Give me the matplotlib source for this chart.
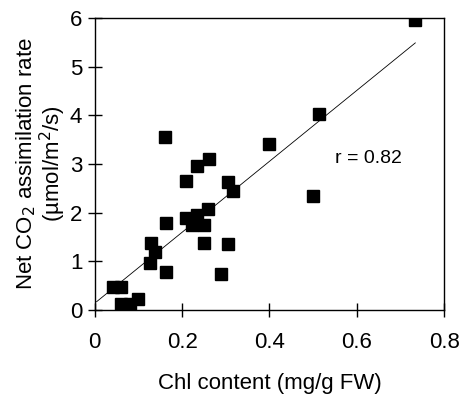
import numpy as np
import matplotlib.pyplot as plt

plt.rcParams['font.family'] = ['Liberation Sans', 'DejaVu Sans']

# Chl content (mg/g FW) and net CO2 assimilation rate
chl = [0.042, 0.059, 0.059, 0.076, 0.080, 0.099, 0.126, 0.128, 0.138,
       0.161, 0.164, 0.164, 0.209, 0.210, 0.222, 0.233, 0.235, 0.250,
       0.250, 0.260, 0.261, 0.289, 0.306, 0.306, 0.316, 0.398, 0.499,
       0.514, 0.734]
rate = [0.48, 0.48, 0.12, 0.00, 0.12, 0.22, 0.97, 1.38, 1.20,
        3.55, 1.79, 0.79, 2.65, 1.90, 1.75, 1.95, 2.96, 1.75,
        1.38, 2.07, 3.10, 0.74, 2.63, 1.36, 2.45, 3.42, 2.35,
        4.02, 5.95]

x_ticks = [0, 0.2, 0.4, 0.6, 0.8]
y_ticks = [0, 1, 2, 3, 4, 5, 6]

fig = plt.figure(figsize=(4.67, 3.97), dpi=100)
ax = fig.add_axes([0.203, 0.219, 0.748, 0.736])

ax.plot(chl, rate, 's', color='black', markersize=8.5, zorder=3)

# regression line
slope, icpt = np.polyfit(chl, rate, 1)
xl = np.array([0.004, max(chl)])
ax.plot(xl, slope * xl + icpt, color='black', linewidth=0.6)

ax.text(0.55, 3.12, 'r = 0.82', fontsize=14, va='center')

ax.set_xlim(0, 0.8)
ax.set_ylim(0, 6)
ax.set_xticks(x_ticks)
ax.set_xticklabels(['0', '0.2', '0.4', '0.6', '0.8'])
ax.set_yticks(y_ticks)
ax.tick_params(direction='inout', length=10, width=1, labelsize=16)
ax.tick_params(axis='x', pad=11)
ax.tick_params(axis='y', pad=4)

ax.set_xlabel('Chl content (mg/g FW)', fontsize=16, labelpad=14)
ax.set_ylabel('Net CO$_2$ assimilation rate\n(\u00b5mol/m$^2$/s)', fontsize=16,
              linespacing=1.0, labelpad=1.5)

for s in ax.spines.values():
    s.set_linewidth(1)

fig.savefig('out.png', dpi=100)
